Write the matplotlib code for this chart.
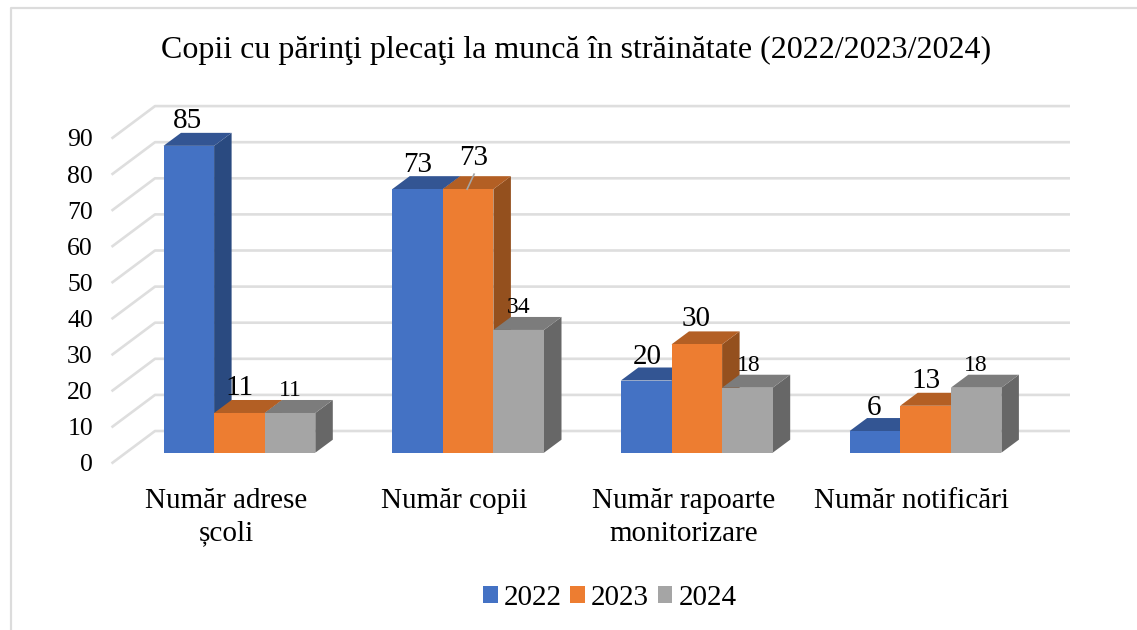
"""3D-look clustered bars redrawn on a flat matplotlib axes (oblique projection)."""
import matplotlib
matplotlib.use("Agg")

import matplotlib.pyplot as plt
from matplotlib.lines import Line2D
from matplotlib.patches import Patch

plt.rcParams["font.family"] = ["Liberation Serif", "DejaVu Serif"]

CATEGORIES = ["Număr adrese\nșcoli", "Număr copii", "Număr rapoarte\nmonitorizare", "Număr notificări"]
YEARS = ["2022", "2023", "2024"]
VALUES_2022 = [85, 73, 20, 6]
VALUES_2023 = [11, 73, 30, 13]
VALUES_2024 = [11, 34, 18, 18]
Y_TICKS = list(range(0, 100, 10))
TITLE = "Copii cu părinţi plecaţi la muncă în străinătate (2022/2023/2024)"

# (front, top, side) per series
COLORS = [("#4472C4", "#335593", "#2A4A80"),
          ("#ED7D31", "#B35F24", "#94501E"),
          ("#A5A5A5", "#7C7C7C", "#676767")]
GRID = "#DEDEDE"

# scale: pixels per category / per value unit, origin at the first bar's front corner
W, H = 1137, 630
PX_CAT, PX_VAL = 228.7, 3.61
X0, Y0 = 163.5, 452.7
BAR_W = 50.6 / PX_CAT
DEPTH_X, DEPTH_Y = 17.5 / PX_CAT, 13 / PX_VAL

# label nudges in pixels from the top centre of each bar, and font size
LABEL_NUDGE = [[(-1, 28), (0, 28), (0, 25)],
               [(0, 27), (6, 34), (0, 25)],
               [(1, 27), (-1, 28), (1, 25)],
               [(-1, 26), (0, 28), (0, 25)]]
LABEL_SIZE = [[21, 21, 17], [21, 21, 17], [21, 21, 17], [21, 21, 17]]


def px(x, y):
    """Pixel position (from top-left of the image) to data coordinates."""
    return (x - X0) / PX_CAT, (Y0 - y) / PX_VAL


fig = plt.figure(figsize=(W / 100, H / 100), dpi=100)
ax = fig.add_axes([0, 0, 1, 1])
ax.set_xlim(px(0, 0)[0], px(W, 0)[0])
ax.set_ylim(px(0, H)[1], px(0, 0)[1])
ax.axis("off")

# outer chart frame: only the left and top edges show in the source crop
fx0, fy0 = px(10.5, 8)
fx1, fy1 = px(W, H)
ax.plot([fx0, fx0, fx1], [fy1, fy0, fy0], color="#DCDCDC", lw=1.6, zorder=1)

# walls
wall_left, wall_right = px(155, 0)[0], px(1070, 0)[0]
floor_front_x = px(111.5, 0)[0]
back_dy, front_dy = (Y0 - 431) / PX_VAL, (Y0 - 463.5) / PX_VAL
for v in Y_TICKS:
    ax.plot([floor_front_x, wall_left, wall_right], [v + front_dy, v + back_dy, v + back_dy],
            color=GRID, lw=1.9, solid_capstyle="butt", zorder=1)
    ax.text(px(93, 0)[0], v - 2.8, str(v), ha="right", va="center_baseline", fontsize=18.5, color="black")

series = [VALUES_2022, VALUES_2023, VALUES_2024]
z = 2
for i in range(len(CATEGORIES)):
    for j, vals in enumerate(series):
        v = vals[i]
        x0 = i + j * BAR_W
        x1 = x0 + BAR_W
        front, top, side = COLORS[j]
        ax.fill([x1, x1 + DEPTH_X, x1 + DEPTH_X, x1], [0, DEPTH_Y, v + DEPTH_Y, v],
                color=side, lw=0, zorder=z)
        ax.fill([x0, x1, x1 + DEPTH_X, x0 + DEPTH_X], [v, v, v + DEPTH_Y, v + DEPTH_Y],
                color=top, lw=0, zorder=z)
        ax.fill([x0, x1, x1, x0], [0, 0, v, v], color=front, lw=0, zorder=z + 1)
        z += 2

for i in range(len(CATEGORIES)):
    for j, vals in enumerate(series):
        cx = i + (j + 0.5) * BAR_W
        dx, dy = LABEL_NUDGE[i][j]
        ax.annotate(str(vals[i]), (cx, vals[i]), xytext=(dx * 0.72, dy * 0.72),
                    textcoords="offset points", ha="center", va="center_baseline",
                    fontsize=LABEL_SIZE[i][j], zorder=100)

# leader line on the second 73
lx = 1 + 1.5 * BAR_W
ax.add_line(Line2D([lx - 1 / PX_CAT, lx + 6 / PX_CAT], [73, 73 + 15 / PX_VAL], color="#A6A6A6", lw=1.2, zorder=99))

# category labels
for i, (name, cx) in enumerate(zip(CATEGORIES, [226, 454, 684, 911])):
    ax.text(px(cx, 0)[0], px(0, 488)[1], name, ha="center", va="top", fontsize=21, linespacing=1.33)

ax.text(px(576, 0)[0], px(0, 50)[1], TITLE, ha="center", va="center", fontsize=23)

handles = [Patch(color=c[0], lw=0, label=y) for c, y in zip(COLORS, YEARS)]
ax.legend(handles=handles, ncol=3, frameon=False, fontsize=21, loc="center",
          bbox_to_anchor=(609.5 / W, 1 - 598 / H), handlelength=0.51, handleheight=0.51,
          handletextpad=0.2, columnspacing=0.3, borderpad=0, borderaxespad=0)

fig.savefig("out.png", dpi=100)
